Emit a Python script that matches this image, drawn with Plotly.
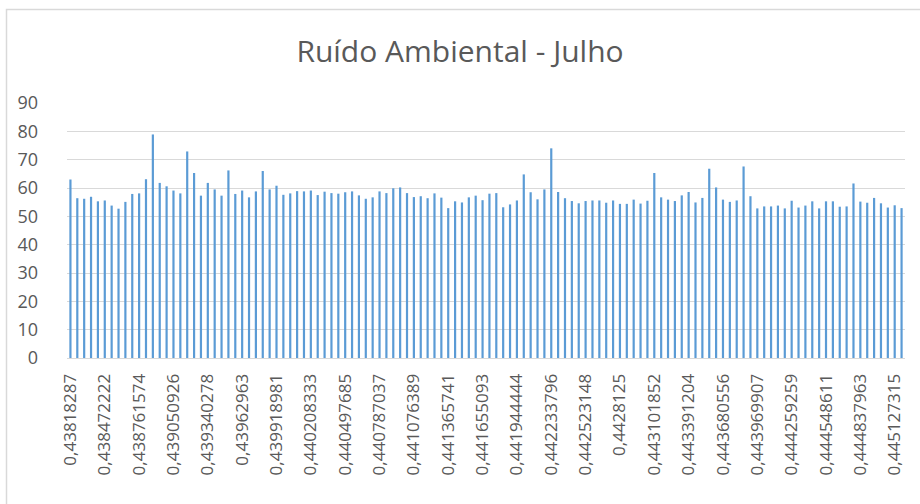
import plotly.graph_objects as go

# Ambient noise readings (dB), one sample every 5 seconds
start_seconds = 37859          # 10:30:59
step_seconds = 5
noise_db = [
    63.0, 56.4, 56.2, 56.9, 55.3, 55.6, 53.8, 52.7, 55.1, 57.9,
    58.1, 63.1, 78.9, 61.8, 60.6, 59.1, 58.1, 72.9, 65.3, 57.3,
    61.8, 59.5, 57.3, 66.2, 57.9, 59.1, 56.7, 58.8, 66.0, 59.5,
    60.8, 57.6, 58.1, 58.9, 58.8, 59.1, 57.5, 58.7, 58.2, 58.0,
    58.5, 58.8, 57.4, 56.2, 56.7, 58.8, 58.2, 59.9, 60.2, 58.2,
    56.8, 57.1, 56.4, 58.1, 56.6, 52.9, 55.3, 54.9, 56.7, 57.3,
    55.7, 58.0, 58.2, 53.2, 54.2, 55.6, 64.8, 58.5, 56.0, 59.5,
    74.0, 58.6, 56.4, 55.4, 54.6, 55.4, 55.6, 55.6, 54.8, 55.6,
    54.4, 54.4, 55.9, 54.5, 55.5, 65.3, 56.7, 55.9, 55.4, 57.4,
    58.6, 54.9, 56.5, 66.8, 60.2, 55.9, 55.1, 55.6, 67.6, 57.1,
    52.8, 53.5, 53.5, 53.8, 52.8, 55.5, 53.1, 53.8, 55.3, 52.8,
    55.3, 55.3, 53.4, 53.5, 61.6, 55.2, 54.8, 56.5, 54.6, 53.1,
    53.9, 52.9,
]
label_every = 5
y_ticks = [0, 10, 20, 30, 40, 50, 60, 70, 80, 90]


def day_fraction(sec):
    """Time of day as a fraction of a day, written with a decimal comma."""
    txt = f"{round(sec / 86400, 9):.9f}".rstrip("0").rstrip(".")
    return txt.replace(".", ",")


times = [day_fraction(start_seconds + i * step_seconds) for i in range(len(noise_db))]
tick_vals = times[::label_every]

W, H = 920, 504
ML, MR, MT, MB = 67, 15, 103, 146
pw, ph = W - ML - MR, H - MT - MB

grey_text = "#595959"
grid = "#D9D9D9"

fig = go.Figure(
    go.Bar(
        x=times,
        y=noise_db,
        marker=dict(color="#5B9BD5", line=dict(width=0)),
        hoverinfo="x+y",
    )
)

fig.update_layout(
    width=W,
    height=H,
    margin=dict(l=ML, r=MR, t=MT, b=MB),
    paper_bgcolor="white",
    plot_bgcolor="white",
    bargap=0.68,
    showlegend=False,
    font=dict(family="Open Sans", color=grey_text),
    title=dict(
        text="Ruído Ambiental - Julho",
        x=0.5,
        xanchor="center",
        xref="container",
        y=1 - 51 / H,
        yanchor="middle",
        font=dict(size=30, color=grey_text, family="Open Sans"),
    ),
    xaxis=dict(
        type="category",
        tickmode="array",
        tickvals=tick_vals,
        ticktext=tick_vals,
        tickangle=-90,
        tickfont=dict(size=17, color=grey_text),
        ticks="",
        ticklabelstandoff=8,
        showgrid=False,
        showline=True,
        linecolor=grid,
        linewidth=1,
    ),
    yaxis=dict(
        range=[0, 90],
        tickvals=y_ticks,
        tickfont=dict(size=18, color=grey_text),
        gridcolor=grid,
        gridwidth=1,
        zeroline=False,
        showline=False,
        ticks="",
        ticklabelstandoff=28,
    ),
    shapes=[
        dict(
            type="rect",
            xref="paper",
            yref="paper",
            x0=(6.5 - ML) / pw,
            x1=(W + 10 - ML) / pw,
            y0=-(H + 10 - MT - ph) / ph,
            y1=1 + (MT - 9.5) / ph,
            line=dict(color=grid, width=1.5),
            fillcolor="rgba(0,0,0,0)",
            layer="below",
        )
    ],
)

fig.write_html("out.html")
